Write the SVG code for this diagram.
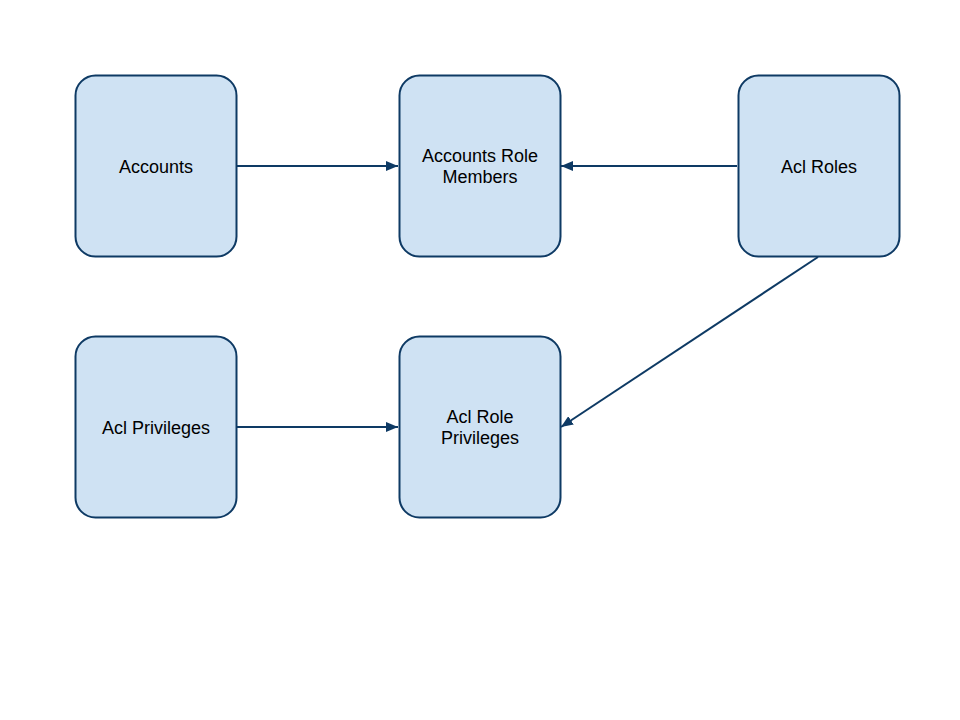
<svg xmlns="http://www.w3.org/2000/svg" width="960" height="720" viewBox="0 0 960 720">
<style>
.box{fill:#cfe2f3;stroke:#0e3a64;stroke-width:2}
.lbl{font-family:"Liberation Sans",Arial,sans-serif;font-size:18px;fill:#000;text-anchor:middle}
.edge{stroke:#0e3a64;stroke-width:2;fill:none;marker-end:url(#arr)}
</style>
<defs>
<marker id="arr" markerWidth="12" markerHeight="10" refX="12" refY="5" orient="auto" markerUnits="userSpaceOnUse">
<path d="M0,0 L12,5 L0,10 Z" fill="#0e3a64"/>
</marker>
</defs>
<rect width="960" height="720" fill="#fff"/>
<g id="connectors">
<line class="edge" x1="237" y1="166" x2="398" y2="166"/>
<line class="edge" x1="737" y1="166" x2="561" y2="166"/>
<line class="edge" x1="237" y1="427" x2="398" y2="427"/>
<line class="edge" x1="818" y1="257" x2="561" y2="427"/>
</g>
<g id="accounts">
<rect class="box" x="75.5" y="75.5" width="161" height="181" rx="20"/>
<text class="lbl" x="156" y="173">Accounts</text>
</g>
<g id="accounts-role-members">
<rect class="box" x="399.5" y="75.5" width="161" height="181" rx="20"/>
<text class="lbl" x="480" y="162">Accounts Role</text>
<text class="lbl" x="480" y="183">Members</text>
</g>
<g id="acl-roles">
<rect class="box" x="738.5" y="75.5" width="161" height="181" rx="20"/>
<text class="lbl" x="819" y="173">Acl Roles</text>
</g>
<g id="acl-privileges">
<rect class="box" x="75.5" y="336.5" width="161" height="181" rx="20"/>
<text class="lbl" x="156" y="434">Acl Privileges</text>
</g>
<g id="acl-role-privileges">
<rect class="box" x="399.5" y="336.5" width="161" height="181" rx="20"/>
<text class="lbl" x="480" y="423">Acl Role</text>
<text class="lbl" x="480" y="444">Privileges</text>
</g>
</svg>
